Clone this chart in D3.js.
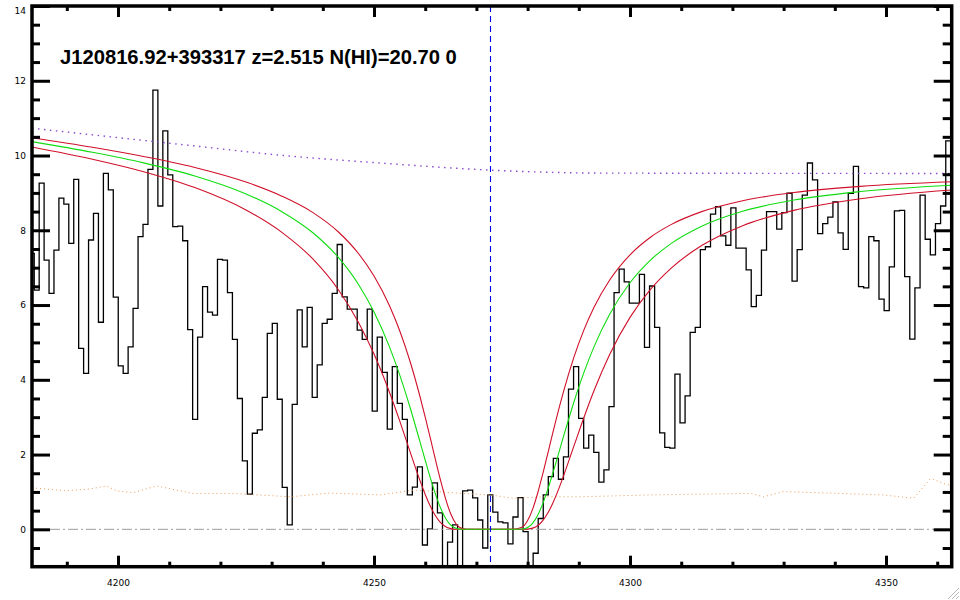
<!DOCTYPE html>
<html><head><meta charset="utf-8">
<script src="https://cdn.jsdelivr.net/npm/d3@7"></script>
<style>
html,body{margin:0;padding:0;background:#fff;}
svg{display:block;}
</style></head><body>
<svg id="c" width="960" height="600"></svg>
<script>
// ---------------- data ----------------
const title = "J120816.92+393317 z=2.515 N(HI)=20.70 0";

// spectrum bin centres (Angstrom, log-spaced pixels) and flux
const wave = [
4183.15,4184.12,4185.08,4186.05,4187.01,4187.97,4188.94,4189.90,4190.87,4191.83,
4192.80,4193.76,4194.73,4195.69,4196.66,4197.63,4198.59,4199.56,4200.53,4201.49,
4202.46,4203.43,4204.40,4205.37,4206.33,4207.30,4208.27,4209.24,4210.21,4211.18,
4212.15,4213.12,4214.09,4215.06,4216.03,4217.00,4217.97,4218.94,4219.91,4220.89,
4221.86,4222.83,4223.80,4224.78,4225.75,4226.72,4227.69,4228.67,4229.64,4230.62,
4231.59,4232.56,4233.54,4234.51,4235.49,4236.46,4237.44,4238.42,4239.39,4240.37,
4241.34,4242.32,4243.30,4244.28,4245.25,4246.23,4247.21,4248.19,4249.16,4250.14,
4251.12,4252.10,4253.08,4254.06,4255.04,4256.02,4257.00,4257.98,4258.96,4259.94,
4260.92,4261.90,4262.88,4263.87,4264.85,4265.83,4266.81,4267.80,4268.78,4269.76,
4270.74,4271.73,4272.71,4273.70,4274.68,4275.66,4276.65,4277.63,4278.62,4279.60,
4280.59,4281.57,4282.56,4283.55,4284.53,4285.52,4286.51,4287.49,4288.48,4289.47,
4290.46,4291.44,4292.43,4293.42,4294.41,4295.40,4296.39,4297.38,4298.37,4299.36,
4300.35,4301.34,4302.33,4303.32,4304.31,4305.30,4306.29,4307.28,4308.27,4309.27,
4310.26,4311.25,4312.24,4313.24,4314.23,4315.22,4316.22,4317.21,4318.21,4319.20,
4320.19,4321.19,4322.18,4323.18,4324.17,4325.17,4326.17,4327.16,4328.16,4329.15,
4330.15,4331.15,4332.15,4333.14,4334.14,4335.14,4336.14,4337.14,4338.13,4339.13,
4340.13,4341.13,4342.13,4343.13,4344.13,4345.13,4346.13,4347.13,4348.13,4349.13,
4350.13,4351.14,4352.14,4353.14,4354.14,4355.14,4356.15,4357.15,4358.15,4359.16,
4360.16,4361.16,4362.18];
const flux = [
7.38,6.40,9.26,7.20,6.31,7.47,8.86,8.70,7.65,9.36,
4.84,4.17,7.74,8.45,5.54,9.52,9.08,6.21,4.37,4.17,
4.88,5.91,7.83,8.16,9.63,11.75,8.65,10.66,9.48,8.10,
8.11,7.72,5.34,2.94,5.14,6.49,5.81,5.73,7.22,7.20,
6.33,5.08,3.50,1.83,0.94,2.57,2.66,3.53,5.24,5.51,
3.48,1.12,0.12,3.34,5.87,4.88,5.94,3.53,4.40,5.51,
5.62,6.31,7.62,6.22,5.89,5.89,5.33,5.08,5.89,3.16,
5.14,4.20,2.68,4.35,3.37,2.94,0.92,1.13,1.67,-0.42,
0.01,1.24,0.44,-1.3,-0.34,0.12,-1.3,1.03,1.05,0.84,
0.25,-0.5,0.92,0.46,0.20,0.17,-0.39,0.33,0.85,-0.06,
-1.3,-0.64,0.29,0.92,1.41,1.90,1.34,1.94,3.75,4.35,
2.97,2.17,2.52,2.06,1.26,1.59,3.28,6.33,6.96,6.62,
6.05,6.05,6.82,4.87,6.51,5.40,2.58,2.19,2.17,4.15,
2.85,3.57,5.27,5.40,7.48,7.56,8.43,8.63,7.85,7.60,
8.60,7.52,7.52,6.94,5.96,6.26,7.47,8.50,8.50,8.03,
8.47,8.99,6.64,7.48,8.94,9.80,9.35,7.91,8.18,8.35,
8.76,7.93,7.49,8.99,9.71,6.49,6.46,7.83,7.72,6.16,
5.85,7.02,8.52,8.53,6.76,5.09,6.46,8.94,7.76,7.34,
8.18,8.65,10.39];

// damped Lya profiles, sampled at these wavelengths
const profileWave = [4183.2,4195,4205,4215,4225,4232,4238,4243,4247,4250,
  4253,4255,4257,4259,4260,4261,4262,4263,4264,4265,
  4266,4267,4268,4269,4277,4279,4280,4281,4282,4283,
  4284,4285,4286,4287,4289,4291,4293,4296,4300,4304,
  4308,4314,4322,4332,4345,4362.83];
// best fit (green)
const bestFlux = [10.373,10.086,9.803,9.453,8.973,8.498,7.941,7.279,6.543,5.815,
  4.888,4.139,3.279,2.332,1.848,1.376,0.942,0.571,0.289,0.111,
  0.027,0.003,0,0,0,0.008,0.050,0.168,0.385,0.701,
  1.094,1.538,2.006,2.480,3.387,4.197,4.895,5.749,6.596,7.202,
  7.644,8.110,8.508,8.809,9.036,9.206];
// lower column density (red, narrower trough)
const lowFlux = [10.476,10.220,9.974,9.681,9.290,8.913,8.480,7.961,7.372,6.776,
  5.988,5.319,4.509,3.540,3.003,2.437,1.863,1.307,0.807,0.409,
  0.150,0.032,0.002,0,0,0.064,0.234,0.547,0.985,1.504,
  2.061,2.624,3.167,3.678,4.586,5.336,5.948,6.664,7.344,7.815,
  8.151,8.499,8.792,9.011,9.175,9.297];
// higher column density (red, wider trough)
const highFlux = [10.229,9.901,9.567,9.142,8.543,7.945,7.240,6.417,5.529,4.688,
  3.673,2.906,2.093,1.295,0.933,0.616,0.361,0.178,0.068,0.018,
  0.002,0,0,0,0,0,0.006,0.032,0.102,0.239,
  0.448,0.725,1.055,1.423,2.211,2.993,3.720,4.669,5.669,6.419,
  6.983,7.592,8.124,8.532,8.844,9.079];

// continuum (purple dotted)
const contWave = [4183.2,4216.0,4231.6,4251.2,4272.7,4294.1,4362.8];
const contFlux = [10.73,10.24,10.01,9.80,9.61,9.53,9.52];

// error array (orange dotted)
const errWave = [4183.2,4190.0,4194.5,4197.8,4199.7,4202.9,4207.6,4210.7,4214.6,4222.5,4233.6,4241.4,4251.2,4257.7,4267.4,4272.7,4277.1,4283.7,4290.2,4303.9,4323.5,4326.1,4330.0,4349.5,4355.4,4358.7,4362.0,4363.0];
const errFlux = [1.11,1.03,1.08,1.16,1.03,0.98,1.16,1.07,0.96,0.96,0.87,0.97,0.92,1.05,0.96,0.92,0.83,0.87,0.87,0.92,0.96,0.87,1.01,0.92,0.83,1.36,1.19,1.19];

const lineCentre = 4272.75;
const zeroLevel = 0;

const xMajorTicks = [4200,4250,4300,4350];
const xMinorTicks = [4190,4210,4220,4230,4240,4260,4270,4280,4290,4310,4320,4330,4340,4360];
const yMajorTicks = [0,2,4,6,8,10,12,14];
const yMinorTicks = [-0.5,0.5,1,1.5,2.5,3,3.5,4.5,5,5.5,6.5,7,7.5,8.5,9,9.5,10.5,11,11.5,12.5,13,13.5];

// ---------------- drawing ----------------
const svg = d3.select("#c");
const L = 32, R = 951.7, T = 6, B = 566.7;
const x = d3.scaleLinear().domain([4183.2, 4362.83]).range([L, R]);
const y = d3.scaleLinear().domain([-1, 14]).range([B, T]);

svg.append("rect").attr("width",960).attr("height",600).attr("fill","#fff");

const defs = svg.append("defs");
defs.append("clipPath").attr("id","plot").append("rect")
  .attr("x",L).attr("y",T).attr("width",R-L).attr("height",B-T);

const g = svg.append("g").attr("clip-path","url(#plot)");

// histogram (step) built from bin edges
const pts = [];
wave.forEach((w,i)=>{
  const lo = i>0 ? (wave[i-1]+w)/2 : w-(wave[1]-wave[0])/2;
  const hi = i<wave.length-1 ? (w+wave[i+1])/2 : w+(w-wave[i-1])/2;
  pts.push([lo,flux[i]],[hi,flux[i]]);
});
g.append("path")
  .attr("d", d3.line().x(d=>x(d[0])).y(d=>y(d[1]))(pts))
  .attr("fill","none").attr("stroke","#000").attr("stroke-width",1.3)
  .attr("stroke-linejoin","miter");

const curve = (ws,fs,cv)=> d3.line().curve(cv||d3.curveMonotoneX)
  .x(d=>x(d[0])).y(d=>y(d[1]))(ws.map((w,i)=>[w,fs[i]]));

// error (orange dotted)
g.append("path").attr("d",curve(errWave,errFlux,d3.curveLinear))
  .attr("fill","none").attr("stroke","#eb9a55").attr("stroke-width",1)
  .attr("stroke-dasharray","1,3");

// zero line (gray dash-dot)
g.append("line").attr("x1",L).attr("x2",R).attr("y1",y(zeroLevel)).attr("y2",y(zeroLevel))
  .attr("stroke","#9c9c9c").attr("stroke-width",1).attr("stroke-dasharray","10,3,2,3");

// continuum (purple dotted)
g.append("path").attr("d",curve(contWave,contFlux))
  .attr("fill","none").attr("stroke","#8a4ad0").attr("stroke-width",1.4)
  .attr("stroke-dasharray","1.5,4.5");

// profiles
g.append("path").attr("d",curve(profileWave,lowFlux))
  .attr("fill","none").attr("stroke","#d0102a").attr("stroke-width",1.1);
g.append("path").attr("d",curve(profileWave,highFlux))
  .attr("fill","none").attr("stroke","#d0102a").attr("stroke-width",1.1);
g.append("path").attr("d",curve(profileWave,bestFlux))
  .attr("fill","none").attr("stroke","#10dd10").attr("stroke-width",1.1);

// line centre (blue dashed)
g.append("line").attr("x1",x(lineCentre)).attr("x2",x(lineCentre)).attr("y1",T).attr("y2",B)
  .attr("stroke","#0000ee").attr("stroke-width",1.1).attr("stroke-dasharray","6,4");

// axes
function ticks(axisFn, scale, values, len, pos, fmt, pad){
  const a = axisFn(scale).tickValues(values).tickSize(-len).tickSizeOuter(0)
    .tickFormat(fmt||"").tickPadding(pad||3);
  const ag = svg.append("g").attr("transform",pos).call(a);
  ag.select(".domain").remove();
  ag.selectAll(".tick line").attr("stroke","#000").attr("stroke-width",3);
  ag.selectAll("text").attr("font-family","'DejaVu Sans', sans-serif").attr("font-size",9).attr("fill","#000");
  return ag;
}
ticks(d3.axisBottom, x, xMinorTicks, 5, `translate(0,${B})`);
ticks(d3.axisTop, x, xMinorTicks, 5, `translate(0,${T})`);
ticks(d3.axisBottom, x, xMajorTicks, 11, `translate(0,${B})`, d=>d, 13);
ticks(d3.axisTop, x, xMajorTicks, 11, `translate(0,${T})`);
ticks(d3.axisLeft, y, yMinorTicks, 8, `translate(${L},0)`);
ticks(d3.axisRight, y, yMinorTicks, 9, `translate(${R},0)`);
const yl = ticks(d3.axisLeft, y, yMajorTicks, 18, `translate(${L},0)`, d=>d, 6);
yl.selectAll(".tick").filter(d=>y(d)<11).select("text").attr("y",5);
ticks(d3.axisRight, y, yMajorTicks, 18, `translate(${R},0)`);

// frame
svg.append("rect").attr("x",L).attr("y",T).attr("width",R-L).attr("height",B-T)
  .attr("fill","none").attr("stroke","#000").attr("stroke-width",3.5);

// title
svg.append("text").attr("x",60).attr("y",64).text(title)
  .attr("font-family","'Liberation Sans', Arial, Helvetica, sans-serif")
  .attr("font-weight","bold").attr("font-size",20.2).attr("fill","#000");

// window resize grip
const grip = svg.append("g").attr("stroke","#b8b8b8").attr("stroke-width",1);
[[948,599,959,588],[952,599,959,592],[956,599,959,596]].forEach(p=>
  grip.append("line").attr("x1",p[0]).attr("y1",p[1]).attr("x2",p[2]).attr("y2",p[3]));
</script>
</body></html>
